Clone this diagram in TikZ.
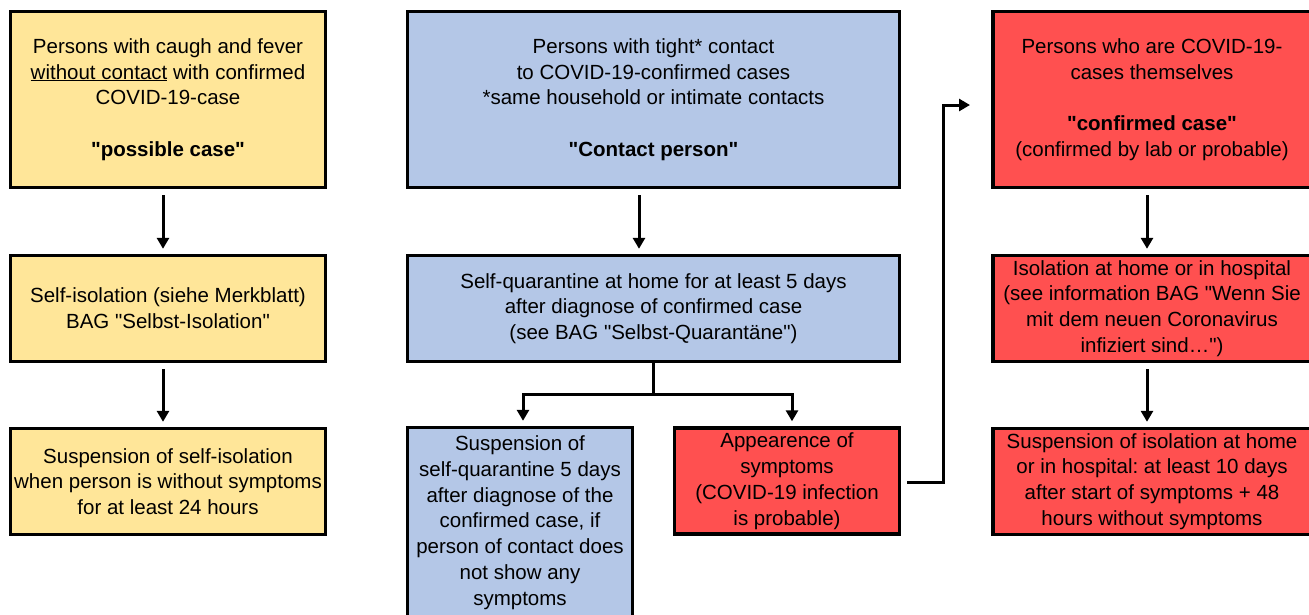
\documentclass[tikz,border=0pt]{standalone}
\usepackage{fontspec}
\setmainfont{Liberation Sans}[Ligatures=TeXOff]
\usetikzlibrary{arrows.meta}
\definecolor{possyellow}{RGB}{255,230,153}
\definecolor{contblue}{RGB}{180,199,231}
\definecolor{confred}{RGB}{255,80,80}
\frenchspacing

\begin{document}
\begin{tikzpicture}[x=1pt,y=-1pt,
	box/.style={draw,line width=3.4pt,align=center,inner sep=0pt,font=\fontsize{20.5}{25.8}\selectfont},
	tallbox/.style={box,minimum height=176pt},
	flatbox/.style={box,minimum height=106pt},
	link/.style={line width=3pt},
	arr/.style={link,-{Triangle[width=12pt,length=11pt]},shorten <=6pt,shorten >=5pt}]

	\useasboundingbox (0,0) rectangle (1309,614);

	\node[tallbox,fill=possyellow,minimum width=315pt] (poss) at (168,99.5) {Persons with caugh and fever\\ \underline{without contact} with confirmed\\ COVID-19-case\\[25.8pt] \textbf{"possible case"}};
	\node[flatbox,fill=possyellow,minimum width=315pt] (iso) at (168,308.5) {Self-isolation (siehe Merkblatt)\\ BAG "Selbst-Isolation"};
	\node[flatbox,fill=possyellow,minimum width=315pt] (isoend) at (168,481.5) {Suspension of self-isolation\\ when person is without symptoms\\ for at least 24 hours};

	\node[tallbox,fill=contblue,minimum width=492pt] (contact) at (653.5,99.5) {Persons with tight* contact\\ to COVID-19-confirmed cases\\ *same household or intimate contacts\\[25.8pt] \textbf{"Contact person"}};
	\node[flatbox,fill=contblue,minimum width=492pt] (quar) at (653.5,308.5) {Self-quarantine at home for at least 5 days\\ after diagnose of confirmed case\\ (see BAG "Selbst-Quarantäne")};
	\node[box,fill=contblue,minimum width=225pt,minimum height=190pt] (quarend) at (520,522.5) {Suspension of\\ self-quarantine 5 days\\ after diagnose of the\\ confirmed case, if\\ person of contact does\\ not show any\\ symptoms};
	\node[flatbox,fill=confred,minimum width=225pt] (sympt) at (787,481) {Appearence of\\ symptoms\\ (COVID-19 infection\\ is probable)};

	\node[tallbox,fill=confred,minimum width=318pt] (conf) at (1152,99.5) {Persons who are COVID-19-\\ cases themselves\\[25.8pt] \textbf{"confirmed case"}\\ (confirmed by lab or probable)};
	\node[flatbox,fill=confred,minimum width=318pt] (hosp) at (1152,308.5) {Isolation at home or in hospital\\ (see information BAG "Wenn Sie\\ mit dem neuen Coronavirus\\ infiziert sind…")};
	\node[flatbox,fill=confred,minimum width=318pt] (hospend) at (1152,481.5) {Suspension of isolation at home\\ or in hospital: at least 10 days\\ after start of symptoms + 48\\ hours without symptoms};

	\draw[arr] ([xshift=-5pt]poss.south) -- ([xshift=-5pt]iso.north);
	\draw[arr] ([xshift=-5pt]iso.south) -- ([xshift=-5pt]isoend.north);
	\draw[arr] ([xshift=-14.5pt]contact.south) -- ([xshift=-14.5pt]quar.north);
	\draw[arr] ([xshift=-5pt]conf.south) -- ([xshift=-5pt]hosp.north);
	\draw[arr] ([xshift=-5pt]hosp.south) -- ([xshift=-5pt]hospend.north);

	\draw[link] (quar.south) -- ++(0,31) coordinate (fork);
	\draw[arr,shorten <=0pt] (fork) -| ([xshift=3pt]quarend.north);
	\draw[arr,shorten <=0pt] (fork) -| ([xshift=5pt]sympt.north);

	\coordinate (jump) at (943,105);
	\coordinate (tip) at (970,105);
	\draw[arr,shorten >=0pt] ([yshift=-1.5pt]sympt.east) -| (jump) -- (tip);

\end{tikzpicture}
\end{document}
